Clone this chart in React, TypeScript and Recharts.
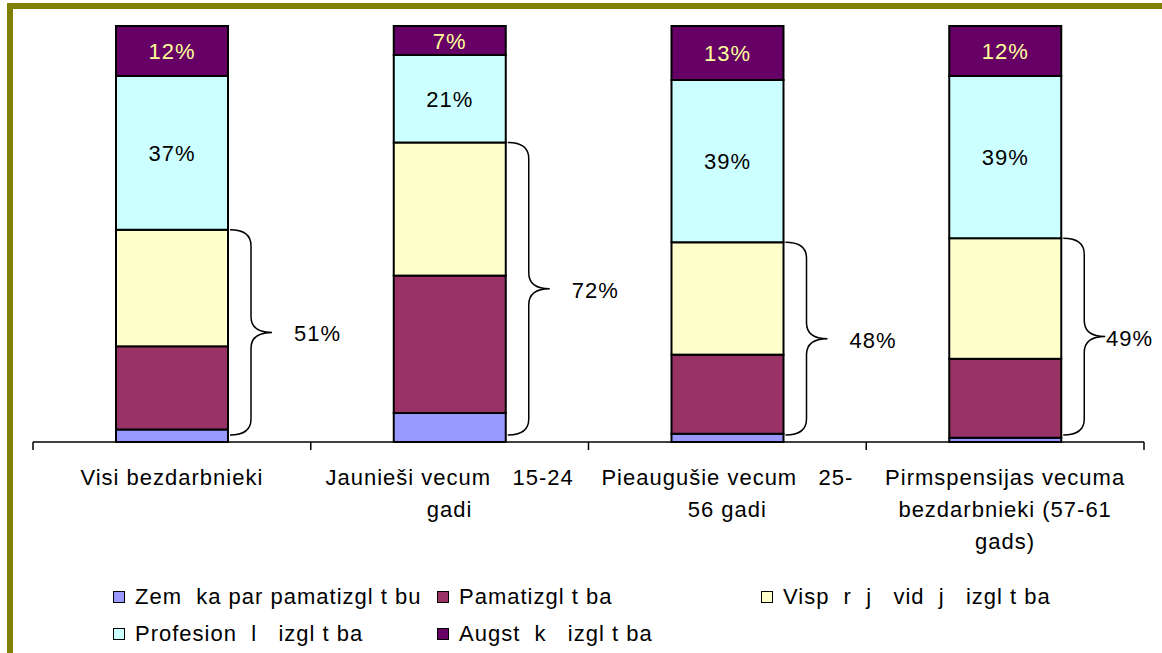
import React from "react";
import { BarChart, Bar, XAxis, YAxis, LabelList } from "recharts";

const W = 1162;
const H = 653;
const MARGIN = { top: 26, right: 18, left: 33, bottom: 91 };
const FONT = "'Liberation Sans', Arial, sans-serif";

// categories and the wrapped tick text (the missing macron letters are blank in the source)
const categories = ["Visi", "Jaunieši", "Pieaugušie", "Pirmspensijas"];
const tickLines = [
    ["Visi bezdarbnieki"],
    ["Jaunieši vecum\u00a0\u00a0 15-24", "gadi"],
    ["Pieaugušie vecum\u00a0\u00a0 25-", "56 gadi"],
    ["Pirmspensijas vecuma", "bezdarbnieki (57-61", "gads)"],
];

// shares in %, bottom to top
const zemaka = [3, 7, 2, 1];
const pamata = [20, 33, 19, 19];
const videja = [28, 32, 27, 29];
const profesionala = [37, 21, 39, 39];
const augstaka = [12, 7, 13, 12];
const braceValues = [51, 72, 48, 49];

const SERIES = [
    { key: "blue", name: "Zem\u00a0\u00a0ka par pamatizgl\u00a0t\u00a0bu", color: "#9999FF" },
    { key: "maroon", name: "Pamatizgl\u00a0t\u00a0ba", color: "#993366" },
    { key: "yellow", name: "Visp\u00a0\u00a0r\u00a0\u00a0j\u00a0\u00a0 vid\u00a0\u00a0j\u00a0\u00a0 izgl\u00a0t\u00a0ba", color: "#FFFFCC" },
    { key: "cyan", name: "Profesion\u00a0\u00a0l\u00a0\u00a0 izgl\u00a0t\u00a0ba", color: "#CCFFFF" },
    { key: "purple", name: "Augst\u00a0\u00a0k\u00a0\u00a0 izgl\u00a0t\u00a0ba", color: "#660066" },
];

const data = categories.map((name, i) => ({
    name,
    blue: zemaka[i],
    maroon: pamata[i],
    yellow: videja[i],
    cyan: profesionala[i],
    purple: augstaka[i],
}));

const BAND = (W - MARGIN.left - MARGIN.right) / categories.length;

// category label plus the separator ticks on both sides of the band
const CatTick = (props: any) => {
    const { x, y, index } = props;
    const lines = tickLines[index] || [];
    const last = index === categories.length - 1;
    return (
        <g>
            <line x1={x - BAND / 2} x2={x - BAND / 2} y1={y} y2={y + 8} stroke="#000" strokeWidth={1.5} />
            {last && <line x1={x + BAND / 2} x2={x + BAND / 2} y1={y} y2={y + 8} stroke="#000" strokeWidth={1.5} />}
            <text x={x} y={y + 43} textAnchor="middle" fill="#000" fontSize={22} fontFamily={FONT} style={{ letterSpacing: 1 }}>
                {lines.map((l, i) => (
                    <tspan key={i} x={x} dy={i ? 32 : 0}>
                        {l}
                    </tspan>
                ))}
            </text>
        </g>
    );
};

// yellow segment plus the curly brace covering the three lower segments
const YellowShape = (props: any) => {
    const { x, y, width, height, payload, index, fill } = props;
    const ppu = height / payload.yellow;
    const base = y + height + (payload.blue + payload.maroon) * ppu;
    const top = y;
    const bottom = base - 7;
    const mid = (top + bottom) / 2;
    const x0 = x + width + 2;
    const xv = x0 + 21;
    const xt = xv + 21;
    const r = 16;
    const d = `M${x0},${top} Q${xv},${top} ${xv},${top + r} L${xv},${mid - r} Q${xv},${mid} ${xt},${mid} Q${xv},${mid} ${xv},${mid + r} L${xv},${bottom - r} Q${xv},${bottom} ${x0},${bottom}`;
    const lx = Math.min(xt + 22, W - 56);
    return (
        <g>
            <rect x={x} y={y} width={width} height={height} fill={fill} stroke="#000" strokeWidth={2} />
            <path d={d} fill="none" stroke="#000" strokeWidth={1.5} />
            <text x={lx} y={mid + 9} fontSize={22} fontFamily={FONT} fill="#000" style={{ letterSpacing: 1 }}>
                {braceValues[index]}%
            </text>
        </g>
    );
};

const segLabel = (color: string) => (props: any) => {
    const { x, y, width, height, value } = props;
    return (
        <text
            x={x + width / 2}
            y={y + height / 2 + 8}
            textAnchor="middle"
            fontSize={22}
            fontFamily={FONT}
            fill={color}
            style={{ letterSpacing: 1 }}
        >
            {value}%
        </text>
    );
};

const legendCols = [113, 437, 761];
const legendRows = [597, 634];

export default function App() {
    return (
        <div style={{ position: "absolute", left: 0, top: 0, width: W, height: H, overflow: "hidden", background: "#fff" }}>
            <div
                style={{
                    position: "absolute",
                    left: 7,
                    top: 3,
                    width: W + 40,
                    height: H + 40,
                    border: "6px solid #808000",
                    boxSizing: "border-box",
                }}
            />
            <div style={{ position: "absolute", left: 0, top: 0 }}>
                <BarChart width={W} height={H} data={data} margin={MARGIN} barSize={112}>
                    <XAxis
                        dataKey="name"
                        interval={0}
                        height={120}
                        axisLine={{ stroke: "#000", strokeWidth: 1.5 }}
                        tickLine={false}
                        tickSize={0}
                        tickMargin={0}
                        tick={<CatTick />}
                    />
                    <YAxis domain={[0, 100]} hide />
                    <Bar dataKey="blue" stackId="a" fill={SERIES[0].color} stroke="#000" strokeWidth={2} isAnimationActive={false} />
                    <Bar dataKey="maroon" stackId="a" fill={SERIES[1].color} stroke="#000" strokeWidth={2} isAnimationActive={false} />
                    <Bar dataKey="yellow" stackId="a" fill={SERIES[2].color} shape={<YellowShape />} isAnimationActive={false} />
                    <Bar dataKey="cyan" stackId="a" fill={SERIES[3].color} stroke="#000" strokeWidth={2} isAnimationActive={false}>
                        <LabelList dataKey="cyan" content={segLabel("#000")} />
                    </Bar>
                    <Bar dataKey="purple" stackId="a" fill={SERIES[4].color} stroke="#000" strokeWidth={2} isAnimationActive={false}>
                        <LabelList dataKey="purple" content={segLabel("#FFFF99")} />
                    </Bar>
                </BarChart>
            </div>
            {SERIES.map((s, i) => {
                const row = i < 3 ? 0 : 1;
                const col = i < 3 ? i : i - 3;
                return (
                    <div
                        key={s.key}
                        style={{
                            position: "absolute",
                            left: legendCols[col],
                            top: legendRows[row] - 14,
                            height: 28,
                            display: "flex",
                            alignItems: "center",
                            fontFamily: FONT,
                            fontSize: 22,
                            letterSpacing: 1,
                            whiteSpace: "pre",
                            color: "#000",
                        }}
                    >
                        <span
                            style={{
                                display: "inline-block",
                                width: 10,
                                height: 10,
                                background: s.color,
                                border: "1px solid #000",
                                marginRight: 10,
                            }}
                        />
                        {s.name}
                    </div>
                );
            })}
        </div>
    );
}
